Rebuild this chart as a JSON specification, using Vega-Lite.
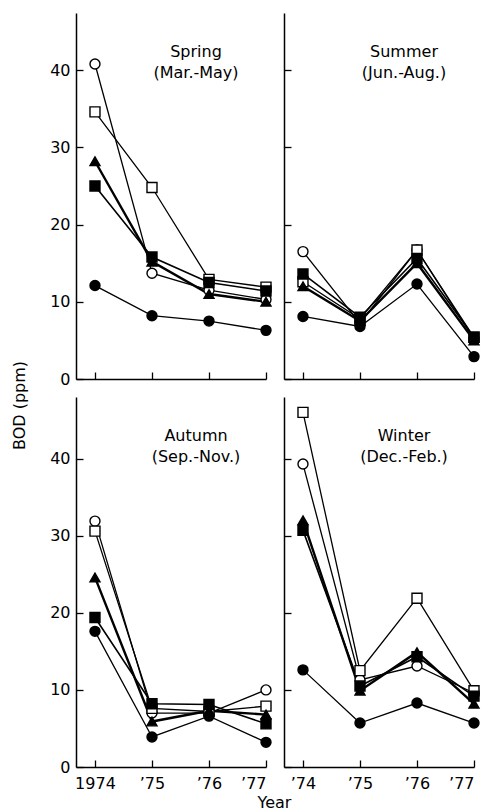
{
  "$schema": "https://vega.github.io/schema/vega-lite/v6.json",
  "background": "white",
  "padding": {"left": 11, "top": 13, "right": 5, "bottom": 0},
  "config": {
    "view": {"stroke": null},
    "font": "DejaVu Sans",
    "axis": {
      "grid": false,
      "domainColor": "black",
      "domainWidth": 1.5,
      "tickColor": "black",
      "tickWidth": 1.3,
      "tickSize": -7,
      "labelFont": "DejaVu Sans",
      "labelFontSize": 16,
      "labelColor": "black",
      "titleColor": "black",
      "titleFont": "DejaVu Sans",
      "titleFontWeight": "normal",
      "titleFontSize": 16
    },
    "title": {
      "anchor": "middle",
      "font": "DejaVu Sans",
      "fontSize": 16,
      "fontWeight": "normal",
      "color": "black",
      "offset": -68,
      "dx": 25,
      "lineHeight": 21
    }
  },
  "datasets": {
    "bod": [
      {"season": "Spring", "series": "open circle", "year": 1974, "value": 40.8},
      {"season": "Spring", "series": "open circle", "year": 1975, "value": 13.7},
      {"season": "Spring", "series": "open circle", "year": 1976, "value": 11.5},
      {"season": "Spring", "series": "open circle", "year": 1977, "value": 10.3},
      {"season": "Spring", "series": "open square", "year": 1974, "value": 34.6},
      {"season": "Spring", "series": "open square", "year": 1975, "value": 24.8},
      {"season": "Spring", "series": "open square", "year": 1976, "value": 12.9},
      {"season": "Spring", "series": "open square", "year": 1977, "value": 11.9},
      {"season": "Spring", "series": "filled triangle", "year": 1974, "value": 28.2},
      {"season": "Spring", "series": "filled triangle", "year": 1975, "value": 15.2},
      {"season": "Spring", "series": "filled triangle", "year": 1976, "value": 11.0},
      {"season": "Spring", "series": "filled triangle", "year": 1977, "value": 10.0},
      {"season": "Spring", "series": "filled square", "year": 1974, "value": 25.0},
      {"season": "Spring", "series": "filled square", "year": 1975, "value": 15.8},
      {"season": "Spring", "series": "filled square", "year": 1976, "value": 12.5},
      {"season": "Spring", "series": "filled square", "year": 1977, "value": 11.4},
      {"season": "Spring", "series": "filled circle", "year": 1974, "value": 12.1},
      {"season": "Spring", "series": "filled circle", "year": 1975, "value": 8.2},
      {"season": "Spring", "series": "filled circle", "year": 1976, "value": 7.5},
      {"season": "Spring", "series": "filled circle", "year": 1977, "value": 6.3},

      {"season": "Summer", "series": "open circle", "year": 1974, "value": 16.5},
      {"season": "Summer", "series": "open circle", "year": 1975, "value": 7.2},
      {"season": "Summer", "series": "open circle", "year": 1976, "value": 16.7},
      {"season": "Summer", "series": "open circle", "year": 1977, "value": 5.2},
      {"season": "Summer", "series": "open square", "year": 1974, "value": 12.6},
      {"season": "Summer", "series": "open square", "year": 1975, "value": 7.8},
      {"season": "Summer", "series": "open square", "year": 1976, "value": 16.7},
      {"season": "Summer", "series": "open square", "year": 1977, "value": 5.4},
      {"season": "Summer", "series": "filled triangle", "year": 1974, "value": 12.0},
      {"season": "Summer", "series": "filled triangle", "year": 1975, "value": 7.5},
      {"season": "Summer", "series": "filled triangle", "year": 1976, "value": 15.0},
      {"season": "Summer", "series": "filled triangle", "year": 1977, "value": 5.0},
      {"season": "Summer", "series": "filled square", "year": 1974, "value": 13.6},
      {"season": "Summer", "series": "filled square", "year": 1975, "value": 8.0},
      {"season": "Summer", "series": "filled square", "year": 1976, "value": 15.6},
      {"season": "Summer", "series": "filled square", "year": 1977, "value": 5.4},
      {"season": "Summer", "series": "filled circle", "year": 1974, "value": 8.1},
      {"season": "Summer", "series": "filled circle", "year": 1975, "value": 6.8},
      {"season": "Summer", "series": "filled circle", "year": 1976, "value": 12.3},
      {"season": "Summer", "series": "filled circle", "year": 1977, "value": 2.9},

      {"season": "Autumn", "series": "open circle", "year": 1974, "value": 31.9},
      {"season": "Autumn", "series": "open circle", "year": 1975, "value": 7.0},
      {"season": "Autumn", "series": "open circle", "year": 1976, "value": 7.0},
      {"season": "Autumn", "series": "open circle", "year": 1977, "value": 10.0},
      {"season": "Autumn", "series": "open square", "year": 1974, "value": 30.6},
      {"season": "Autumn", "series": "open square", "year": 1975, "value": 7.6},
      {"season": "Autumn", "series": "open square", "year": 1976, "value": 7.2},
      {"season": "Autumn", "series": "open square", "year": 1977, "value": 7.9},
      {"season": "Autumn", "series": "filled triangle", "year": 1974, "value": 24.6},
      {"season": "Autumn", "series": "filled triangle", "year": 1975, "value": 5.9},
      {"season": "Autumn", "series": "filled triangle", "year": 1976, "value": 7.3},
      {"season": "Autumn", "series": "filled triangle", "year": 1977, "value": 6.8},
      {"season": "Autumn", "series": "filled square", "year": 1974, "value": 19.4},
      {"season": "Autumn", "series": "filled square", "year": 1975, "value": 8.2},
      {"season": "Autumn", "series": "filled square", "year": 1976, "value": 8.1},
      {"season": "Autumn", "series": "filled square", "year": 1977, "value": 5.6},
      {"season": "Autumn", "series": "filled circle", "year": 1974, "value": 17.6},
      {"season": "Autumn", "series": "filled circle", "year": 1975, "value": 3.9},
      {"season": "Autumn", "series": "filled circle", "year": 1976, "value": 6.6},
      {"season": "Autumn", "series": "filled circle", "year": 1977, "value": 3.2},

      {"season": "Winter", "series": "open circle", "year": 1974, "value": 39.3},
      {"season": "Winter", "series": "open circle", "year": 1975, "value": 11.3},
      {"season": "Winter", "series": "open circle", "year": 1976, "value": 13.1},
      {"season": "Winter", "series": "open circle", "year": 1977, "value": 9.6},
      {"season": "Winter", "series": "open square", "year": 1974, "value": 46.0},
      {"season": "Winter", "series": "open square", "year": 1975, "value": 12.5},
      {"season": "Winter", "series": "open square", "year": 1976, "value": 21.9},
      {"season": "Winter", "series": "open square", "year": 1977, "value": 9.9},
      {"season": "Winter", "series": "filled triangle", "year": 1974, "value": 32.0},
      {"season": "Winter", "series": "filled triangle", "year": 1975, "value": 9.9},
      {"season": "Winter", "series": "filled triangle", "year": 1976, "value": 14.9},
      {"season": "Winter", "series": "filled triangle", "year": 1977, "value": 8.2},
      {"season": "Winter", "series": "filled square", "year": 1974, "value": 30.7},
      {"season": "Winter", "series": "filled square", "year": 1975, "value": 10.5},
      {"season": "Winter", "series": "filled square", "year": 1976, "value": 14.3},
      {"season": "Winter", "series": "filled square", "year": 1977, "value": 9.2},
      {"season": "Winter", "series": "filled circle", "year": 1974, "value": 12.6},
      {"season": "Winter", "series": "filled circle", "year": 1975, "value": 5.7},
      {"season": "Winter", "series": "filled circle", "year": 1976, "value": 8.3},
      {"season": "Winter", "series": "filled circle", "year": 1977, "value": 5.7}
    ]
  },
  "data": {"name": "bod"},
  "columns": 2,
  "spacing": 18,
  "bounds": "flush",
  "resolve": {"scale": {"x": "independent", "y": "independent"}},
  "concat": [
    {
      "width": 190,
      "height": 366,
      "title": {"text": ["Spring", "(Mar.-May)"]},
      "transform": [{"filter": "datum.season == 'Spring'"}],
      "encoding": {
        "x": {"field": "year", "type": "quantitative", "scale": {"domain": [1973.667, 1977], "nice": false, "zero": false}, "axis": {"values": [1974, 1975, 1976, 1977], "labels": false, "title": null}},
        "y": {"field": "value", "type": "quantitative", "scale": {"domain": [0, 47.4], "nice": false}, "axis": {"values": [0, 10, 20, 30, 40], "labelPadding": 13, "title": "BOD (ppm)", "titleX": -57, "titleY": 392, "titleAngle": -90, "titleAlign": "center", "titleBaseline": "middle"}}
      },
      "layer": [
        {"mark": {"type": "line", "color": "black"}, "encoding": {"detail": {"field": "series"}, "strokeWidth": {"field": "series", "type": "nominal", "scale": {"type": "ordinal", "domain": ["open circle", "open square", "filled triangle", "filled square", "filled circle"], "range": [1.3, 1.3, 2.4, 1.6, 1.3]}, "legend": null}}},
        {"mark": {"type": "point", "stroke": "black", "strokeWidth": 1.4, "opacity": 1, "size": 100}, "encoding": {
          "shape": {"field": "series", "type": "nominal", "scale": {"domain": ["open circle", "open square", "filled triangle", "filled square", "filled circle"], "range": ["circle", "square", "triangle-up", "square", "circle"]}, "legend": null},
          "fill": {"field": "series", "type": "nominal", "scale": {"domain": ["open circle", "open square", "filled triangle", "filled square", "filled circle"], "range": ["white", "white", "black", "black", "black"]}, "legend": null}
        }}
      ]
    },
    {
      "width": 190,
      "height": 366,
      "title": {"text": ["Summer", "(Jun.-Aug.)"]},
      "transform": [{"filter": "datum.season == 'Summer'"}],
      "encoding": {
        "x": {"field": "year", "type": "quantitative", "scale": {"domain": [1973.667, 1977], "nice": false, "zero": false}, "axis": {"values": [1974, 1975, 1976, 1977], "labels": false, "title": null}},
        "y": {"field": "value", "type": "quantitative", "scale": {"domain": [0, 47.4], "nice": false}, "axis": {"values": [0, 10, 20, 30, 40], "labels": false, "title": null}}
      },
      "layer": [
        {"mark": {"type": "line", "color": "black"}, "encoding": {"detail": {"field": "series"}, "strokeWidth": {"field": "series", "type": "nominal", "scale": {"type": "ordinal", "domain": ["open circle", "open square", "filled triangle", "filled square", "filled circle"], "range": [1.3, 1.3, 2.4, 1.6, 1.3]}, "legend": null}}},
        {"mark": {"type": "point", "stroke": "black", "strokeWidth": 1.4, "opacity": 1, "size": 100}, "encoding": {
          "shape": {"field": "series", "type": "nominal", "scale": {"domain": ["open circle", "open square", "filled triangle", "filled square", "filled circle"], "range": ["circle", "square", "triangle-up", "square", "circle"]}, "legend": null},
          "fill": {"field": "series", "type": "nominal", "scale": {"domain": ["open circle", "open square", "filled triangle", "filled square", "filled circle"], "range": ["white", "white", "black", "black", "black"]}, "legend": null}
        }}
      ]
    },
    {
      "width": 190,
      "height": 370,
      "title": {"text": ["Autumn", "(Sep.-Nov.)"]},
      "transform": [{"filter": "datum.season == 'Autumn'"}],
      "encoding": {
        "x": {"field": "year", "type": "quantitative", "scale": {"domain": [1973.667, 1977], "nice": false, "zero": false}, "axis": {"values": [1974, 1975, 1976, 1977], "labelPadding": 15, "labelExpr": "datum.value == 1974 ? '1974' : '’' + substring(toString(datum.value), 2)", "title": "Year", "titleX": 198, "titleY": 27, "titleAlign": "center", "titleBaseline": "top"}},
        "y": {"field": "value", "type": "quantitative", "scale": {"domain": [0, 48], "nice": false}, "axis": {"values": [0, 10, 20, 30, 40], "labelPadding": 13, "title": null}}
      },
      "layer": [
        {"mark": {"type": "line", "color": "black"}, "encoding": {"detail": {"field": "series"}, "strokeWidth": {"field": "series", "type": "nominal", "scale": {"type": "ordinal", "domain": ["open circle", "open square", "filled triangle", "filled square", "filled circle"], "range": [1.3, 1.3, 2.4, 1.6, 1.3]}, "legend": null}}},
        {"mark": {"type": "point", "stroke": "black", "strokeWidth": 1.4, "opacity": 1, "size": 100}, "encoding": {
          "shape": {"field": "series", "type": "nominal", "scale": {"domain": ["open circle", "open square", "filled triangle", "filled square", "filled circle"], "range": ["circle", "square", "triangle-up", "square", "circle"]}, "legend": null},
          "fill": {"field": "series", "type": "nominal", "scale": {"domain": ["open circle", "open square", "filled triangle", "filled square", "filled circle"], "range": ["white", "white", "black", "black", "black"]}, "legend": null}
        }}
      ]
    },
    {
      "width": 190,
      "height": 370,
      "title": {"text": ["Winter", "(Dec.-Feb.)"]},
      "transform": [{"filter": "datum.season == 'Winter'"}],
      "encoding": {
        "x": {"field": "year", "type": "quantitative", "scale": {"domain": [1973.667, 1977], "nice": false, "zero": false}, "axis": {"values": [1974, 1975, 1976, 1977], "labelPadding": 15, "labelExpr": "'’' + substring(toString(datum.value), 2)", "title": null}},
        "y": {"field": "value", "type": "quantitative", "scale": {"domain": [0, 48], "nice": false}, "axis": {"values": [0, 10, 20, 30, 40], "labels": false, "title": null}}
      },
      "layer": [
        {"mark": {"type": "line", "color": "black"}, "encoding": {"detail": {"field": "series"}, "strokeWidth": {"field": "series", "type": "nominal", "scale": {"type": "ordinal", "domain": ["open circle", "open square", "filled triangle", "filled square", "filled circle"], "range": [1.3, 1.3, 2.4, 1.6, 1.3]}, "legend": null}}},
        {"mark": {"type": "point", "stroke": "black", "strokeWidth": 1.4, "opacity": 1, "size": 100}, "encoding": {
          "shape": {"field": "series", "type": "nominal", "scale": {"domain": ["open circle", "open square", "filled triangle", "filled square", "filled circle"], "range": ["circle", "square", "triangle-up", "square", "circle"]}, "legend": null},
          "fill": {"field": "series", "type": "nominal", "scale": {"domain": ["open circle", "open square", "filled triangle", "filled square", "filled circle"], "range": ["white", "white", "black", "black", "black"]}, "legend": null}
        }}
      ]
    }
  ]
}
